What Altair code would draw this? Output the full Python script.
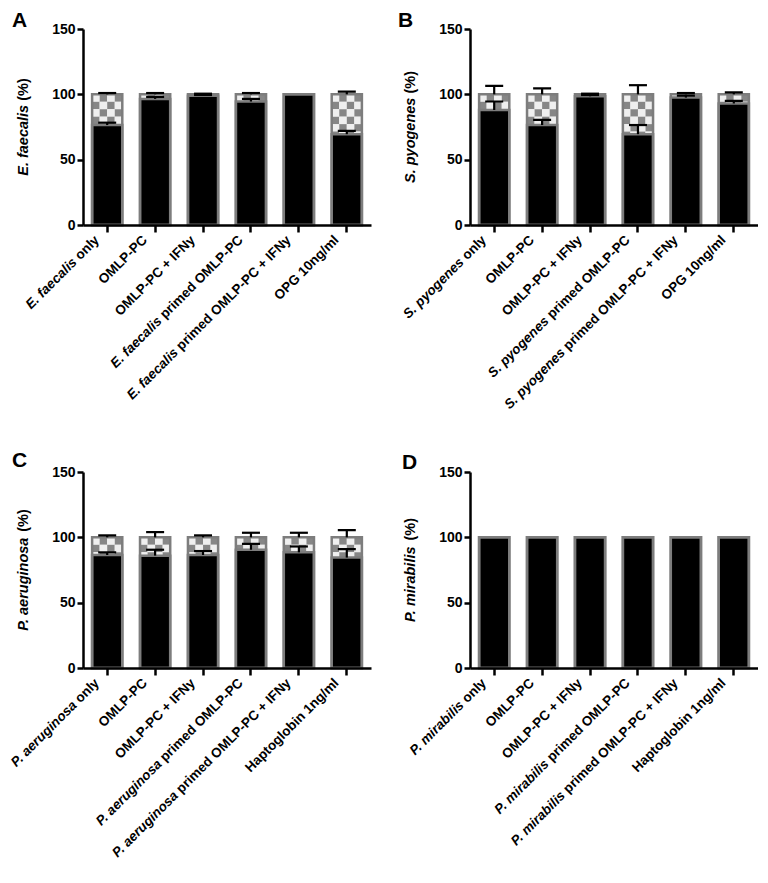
import altair as alt
import pandas as pd

# ---------------- data ----------------
labels_A = ["E. faecalis only", "OMLP-PC", "OMLP-PC + IFNy", "E. faecalis primed OMLP-PC",
            "E. faecalis primed OMLP-PC + IFNy", "OPG 10ng/ml"]
labels_B = ["S. pyogenes only", "OMLP-PC", "OMLP-PC + IFNy", "S. pyogenes primed OMLP-PC",
            "S. pyogenes primed OMLP-PC + IFNy", "OPG 10ng/ml"]
labels_C = ["P. aeruginosa only", "OMLP-PC", "OMLP-PC + IFNy", "P. aeruginosa primed OMLP-PC",
            "P. aeruginosa primed OMLP-PC + IFNy", "Haptoglobin 1ng/ml"]
labels_D = ["P. mirabilis only", "OMLP-PC", "OMLP-PC + IFNy", "P. mirabilis primed OMLP-PC",
            "P. mirabilis primed OMLP-PC + IFNy", "Haptoglobin 1ng/ml"]

species = ["E. faecalis", "S. pyogenes", "P. aeruginosa", "P. mirabilis"]
letters = ["A", "B", "C", "D"]

# lower (black) segment, its error, error of the stacked total (100 %)
black_A = [76.5, 96.5, 99.0, 94.5, 100.0, 69.5]
black_err_A = [1.8, 1.5, 0.5, 2.0, 0.0, 2.5]
top_err_A = [1.0, 1.0, 0.5, 1.0, 0.0, 2.0]

black_B = [88.0, 76.5, 98.5, 69.5, 97.5, 93.0]
black_err_B = [6.5, 4.0, 1.0, 7.0, 1.5, 2.0]
top_err_B = [6.5, 4.5, 0.5, 7.0, 1.0, 1.5]

black_C = [86.5, 86.0, 86.5, 90.5, 88.5, 84.5]
black_err_C = [2.0, 4.5, 3.0, 4.5, 4.5, 6.5]
top_err_C = [1.5, 4.0, 1.5, 3.5, 3.5, 5.5]

black_D = [100.0, 100.0, 100.0, 100.0, 100.0, 100.0]
black_err_D = [0.0, 0.0, 0.0, 0.0, 0.0, 0.0]
top_err_D = [0.0, 0.0, 0.0, 0.0, 0.0, 0.0]

total = 100.0

# ---------------- styling ----------------
FONT = "Liberation Sans"
W, H = 288, 196
CELL = 5.7          # checker cell height in data units
GRAY = "#7d7d7d"
LFS = 13.5          # x label font size

# Arial/Liberation Sans Bold advance widths (per 1000 em)
_WB = {" ": 278, "(": 333, ")": 333, "%": 889, "+": 584, "-": 333, ".": 278, "/": 278,
       "A": 722, "B": 722, "C": 722, "D": 722, "E": 667, "F": 611, "G": 778, "H": 722,
       "I": 278, "L": 611, "M": 833, "N": 722, "O": 778, "P": 667, "S": 667,
       "a": 556, "b": 611, "c": 556, "d": 611, "e": 556, "f": 333, "g": 611, "h": 611,
       "i": 278, "l": 278, "m": 889, "n": 611, "o": 611, "p": 611, "r": 389, "s": 556,
       "t": 333, "u": 611, "y": 556}
for d in "0123456789":
    _WB[d] = 556


def tw(s, size):
    return sum(_WB.get(c, 556) for c in s) * size / 1000.0


def panel(letter, sp, labels, black, berr, terr, letter_pos):
    xscale = alt.Scale(domain=labels, paddingInner=0.37, paddingOuter=0.19)
    yscale = alt.Scale(domain=[0, 150])
    xaxis = alt.Axis(labels=False, title=None, tickSize=7, zindex=1)
    yaxis = alt.Axis(values=[0, 50, 100, 150], title=None, tickSize=6, labelPadding=2, zindex=1)
    X = alt.X("cat:N", scale=xscale, sort=labels, axis=xaxis)

    base_df = pd.DataFrame({"cat": labels, "black": black, "total": [total] * len(labels)})

    # checker cells for the upper segment
    cells = []
    for c, b in zip(labels, black):
        r = 0
        while True:
            y1 = total - r * CELL
            if y1 <= b + 1e-9:
                break
            y0 = max(b, y1 - CELL)
            for col in range(4):
                cells.append({"cat": c, "col": col, "y0": y0, "y1": y1,
                              "shade": "dark" if (r + col) % 2 else "light"})
            r += 1
    cells_df = pd.DataFrame(cells, columns=["cat", "col", "y0", "y1", "shade"])

    err_rows = []
    for c, b, e1, e2 in zip(labels, black, berr, terr):
        if e1 > 0:
            err_rows.append({"cat": c, "lo": b, "hi": b + e1})
        if e2 > 0:
            err_rows.append({"cat": c, "lo": total, "hi": total + e2})
    err_df = pd.DataFrame(err_rows, columns=["cat", "lo", "hi"])

    lab_rows = []
    for c in labels:
        if c.startswith(sp):
            pre, suf = sp, c[len(sp):]
        else:
            pre, suf = "", c
        lab_rows.append({"cat": c, "pre": pre, "suf": suf.strip(), "sw": tw(suf, LFS)})
    lab_df = pd.DataFrame(lab_rows)

    checker = alt.Chart(cells_df).mark_rect().encode(
        x=X,
        xOffset=alt.XOffset("col:O"),
        y=alt.Y("y0:Q", scale=yscale, axis=yaxis),
        y2="y1:Q",
        color=alt.Color("shade:N", scale=alt.Scale(domain=["light", "dark"], range=["#efefef", "#868686"]),
                        legend=None),
    )
    blackbar = alt.Chart(base_df).mark_bar(color="black", stroke=GRAY, strokeWidth=2.5).encode(
        x=X,
        y=alt.Y("black:Q", scale=yscale, axis=yaxis),
    )
    outline = alt.Chart(base_df).mark_bar(fill="white", fillOpacity=0, stroke=GRAY, strokeWidth=2.5).encode(
        x=X,
        y=alt.Y("total:Q", scale=yscale, axis=yaxis),
    )
    rules = alt.Chart(err_df).mark_rule(color="black", strokeWidth=2.2).encode(
        x=X,
        y=alt.Y("lo:Q", scale=yscale, axis=yaxis),
        y2="hi:Q",
    )
    caps = alt.Chart(err_df).mark_tick(color="black", thickness=2.2, size=18, opacity=1).encode(
        x=X,
        y=alt.Y("hi:Q", scale=yscale, axis=yaxis),
    )
    suf = alt.Chart(lab_df).mark_text(angle=315, align="right", baseline="middle", font=FONT,
                                       fontSize=LFS, fontWeight="bold", color="black").encode(
        x=X,
        xOffset=alt.value(5),
        y=alt.value(H + 13),
        text="suf:N",
    )
    pre = alt.Chart(lab_df).mark_text(angle=315, align="right", baseline="middle", font=FONT,
                                       fontSize=LFS, fontWeight="bold", fontStyle="italic", color="black",
                                       dx={"expr": "-datum.sw"}).encode(
        x=X,
        xOffset=alt.value(5),
        y=alt.value(H + 13),
        text="pre:N",
    )
    # y axis title (italic species name + "(%)")
    TS = 14.5
    wp = tw(sp + " ", TS)
    wt = wp + tw("(%)", TS)
    one = pd.DataFrame({"k": [0]})
    t1 = alt.Chart(one).mark_text(angle=270, align="left", baseline="middle", font=FONT, fontSize=TS,
                                  fontWeight="bold", fontStyle="italic", color="black", dx=-wt / 2).encode(
        x=alt.value(-59), y=alt.value(H / 2), text=alt.value(sp))
    t2 = alt.Chart(one).mark_text(angle=270, align="left", baseline="middle", font=FONT, fontSize=TS,
                                  fontWeight="bold", color="black", dx=-wt / 2 + wp).encode(
        x=alt.value(-59), y=alt.value(H / 2), text=alt.value("(%)"))
    let = alt.Chart(one).mark_text(align="left", baseline="alphabetic", font=FONT, fontSize=21,
                                   fontWeight="bold", color="black").encode(
        x=alt.value(letter_pos[0]), y=alt.value(letter_pos[1]), text=alt.value(letter))

    return alt.layer(checker, blackbar, outline, rules, caps, suf, pre, t1, t2, let).properties(
        width=W, height=H)


panels = [
    panel("A", species[0], labels_A, black_A, black_err_A, top_err_A, (-71, -2)),
    panel("B", species[1], labels_B, black_B, black_err_B, top_err_B, (-72, -2)),
    panel("C", species[2], labels_C, black_C, black_err_C, top_err_C, (-71, -5)),
    panel("D", species[3], labels_D, black_D, black_err_D, top_err_D, (-68, -3)),
]

chart = alt.concat(*panels, columns=2, spacing={"row": 247, "column": 99}, bounds="flush").properties(
    padding={"left": 0, "top": 2, "right": 0, "bottom": 0}
).configure_view(stroke=None).configure_axis(
    domainColor="black", domainWidth=2.5, tickColor="black", tickWidth=2.5,
    labelFont=FONT, labelFontSize=14, labelFontWeight="bold", labelColor="black", grid=False
)

chart.save("out.html", embed_options={"renderer": "svg", "actions": False})
